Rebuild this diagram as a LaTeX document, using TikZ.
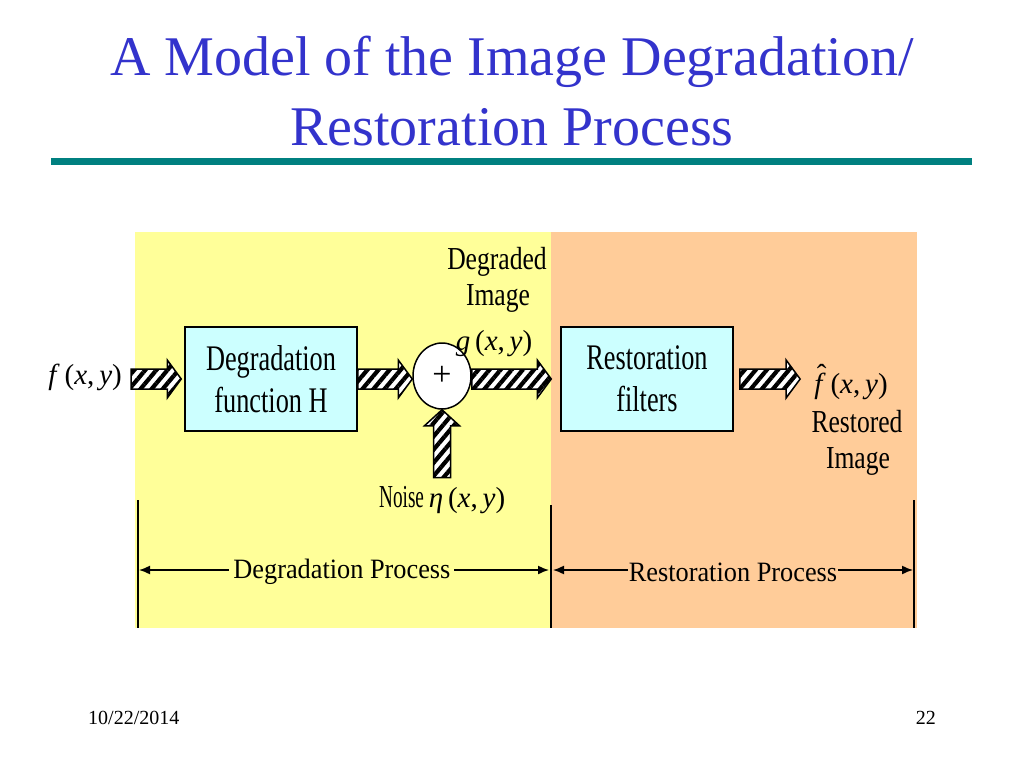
\documentclass[tikz,border=0pt]{standalone}
\usepackage{fontspec}
\setmainfont{Liberation Serif}
\newfontfamily\boxfont[FakeStretch=0.73]{Liberation Serif}
\newfontfamily\lblfont[FakeStretch=0.8]{Liberation Serif}
\newfontfamily\noisefont[FakeStretch=0.6]{Liberation Serif}
\newfontfamily\dimfont[FakeStretch=0.94]{Liberation Serif}
\usepackage{tikz}
\usetikzlibrary{arrows.meta,patterns.meta,calc,shapes.geometric,positioning}
\definecolor{titleblue}{RGB}{51,51,204}
\definecolor{ruleteal}{RGB}{0,128,128}
\definecolor{yellowbg}{RGB}{255,255,153}
\definecolor{peachbg}{RGB}{255,204,153}
\definecolor{boxcyan}{RGB}{204,255,255}
\tikzset{
    shaftw/.store in=\shaftw, headw/.store in=\headw, tipl/.store in=\tipl,
    shaftw=10pt, headw=19pt, tipl=14pt,
    hatch/.style={draw, line width=1.5pt, line join=miter,
        preaction={fill=white},
        pattern={Lines[angle=50,distance=8.5pt,line width=4.2pt]},
        to path={
            ($(\tikztostart)!\shaftw!90:(\tikztotarget)$)
            -- ($($(\tikztotarget)!\tipl!(\tikztostart)$)!\shaftw!90:(\tikztotarget)$)
            -- ($($(\tikztotarget)!\tipl!(\tikztostart)$)!\headw!90:(\tikztotarget)$)
            -- (\tikztotarget)
            -- ($($(\tikztotarget)!\tipl!(\tikztostart)$)!\headw!-90:(\tikztotarget)$)
            -- ($($(\tikztotarget)!\tipl!(\tikztostart)$)!\shaftw!-90:(\tikztotarget)$)
            -- ($(\tikztostart)!\shaftw!-90:(\tikztotarget)$)
            -- cycle}},
    blockbox/.style={draw, line width=1.5pt, fill=boxcyan, align=center,
        minimum width=172pt, minimum height=104pt, inner sep=0pt,
        font=\boxfont\fontsize{36}{42}\selectfont},
    sumnode/.style={draw, ellipse, line width=1.5pt, fill=white,
        minimum width=58pt, minimum height=66pt, inner sep=0pt,
        font=\fontsize{34}{36}\selectfont},
    lbl/.style={inner sep=2pt, align=center, font=\lblfont\fontsize{32}{36}\selectfont},
    eqn/.style={inner sep=2pt, font=\fontsize{29}{36}\selectfont},
    dimlbl/.style={inner sep=0pt, inner xsep=4pt, font=\dimfont\fontsize{28}{32}\selectfont},
    dimline/.style={line width=1.5pt, {Latex[length=11pt,width=9pt]}-{Latex[length=11pt,width=9pt]}},
    titlefont/.style={inner sep=0pt, text=titleblue, font=\fontsize{56}{70}\selectfont},
    footer/.style={inner sep=0pt, font=\fontsize{20}{24}\selectfont}
}
\newcommand{\fxy}[1]{#1\,(\textit{x},\,\textit{y})}
\newcommand{\fhatchar}{\ooalign{\textit{f}\cr\hidewidth\kern0.12em\raisebox{0.3em}{ˆ}\hidewidth\cr}}
\begin{document}
\begin{tikzpicture}[x=1pt,y=-1pt]
    \useasboundingbox (0,0) rectangle (1024,768);
    \fill[white] (0,0) rectangle (1024,768);
    % Title
    \node[titlefont, anchor=base] (title1) at (512,75) {A Model of the Image Degradation/};
    \node[titlefont, anchor=base] (title2) at (512,145) {Restoration Process};
    \draw[ruleteal, line width=7pt] (51,161.5) -- (972,161.5);
    % Background
    \fill[yellowbg] (135,232) rectangle (551,628);
    \fill[peachbg] (551,232) rectangle (917,628);
    % Blocks
    \node[blockbox] (deg) at (271,379) {Degradation\\function H};
    \node[sumnode] (circ) at (442,376) {+};
    \node[blockbox] (rest) at (647,379) {Restoration\\filters};
    % Labels
    \node[eqn, anchor=base east] (fxy) at (124,384) {\fxy{\textit{f}}};
    \node[lbl, anchor=base] (degimg) at (497,269) {Degraded};
    \node[lbl, anchor=base] (degimg2) at (498,305) {Image};
    \node[eqn, anchor=base] (gxy) at (494,350) {\fxy{\textit{g}}};
    \node[eqn, anchor=base west] (noise) at (377,507) {{\noisefont\fontsize{32}{36}\selectfont Noise}\,\fxy{\textit{η}}};
    \node[eqn, anchor=base] (fhat) at (851,393) {\fxy{\fhatchar}};
    \node[lbl, anchor=base] (restimg) at (857,432) {Restored};
    \node[lbl, anchor=base] (restimg2) at (858,468) {Image};
    % Hatched arrows
    \draw[hatch] ([xshift=7pt]fxy.east |- deg.west) to ([xshift=-3pt]deg.west);
    \draw[hatch] (deg.east) to (circ.west |- deg.east);
    \draw[hatch] (circ.east |- deg.east) to ([xshift=-9pt]rest.west);
    \draw[hatch] ([xshift=6pt]rest.east) to ([xshift=-12pt]fhat.west |- rest.east);
    \draw[hatch, shaftw=8.5pt, headw=17.5pt, tipl=16pt] ([yshift=6pt]circ.south |- noise.north) to (circ.south);
    % Process ranges
    \coordinate (lt) at (138,500);
    \coordinate (lb) at (138,628);
    \coordinate (mt) at (551,505);
    \coordinate (mb) at (551,628);
    \coordinate (rt) at (914,500);
    \coordinate (rb) at (914,628);
    \draw[line width=1.5pt] (lt) -- (lb);
    \draw[line width=1.5pt] (mt) -- (mb);
    \draw[line width=1.5pt] (rt) -- (rb);
    \coordinate (dl) at (139,570);
    \coordinate (dm) at (551,570);
    \coordinate (dr) at (913,570);
    \draw[dimline] (dl) -- ([xshift=-2pt]dm)
        node[dimlbl, fill=yellowbg, pos=0.495, yshift=-2pt] (degproc) {Degradation Process};
    \draw[dimline] ([xshift=2pt]dm) -- (dr)
        node[dimlbl, fill=peachbg, inner xsep=1pt, pos=0.5, yshift=-2pt] (restproc) {Restoration Process};
    % Footer
    \node[footer, anchor=base west] (date) at (88,724) {10/22/2014};
    \node[footer, anchor=base east] (pnum) at (936,724) {22};
\end{tikzpicture}
\end{document}
